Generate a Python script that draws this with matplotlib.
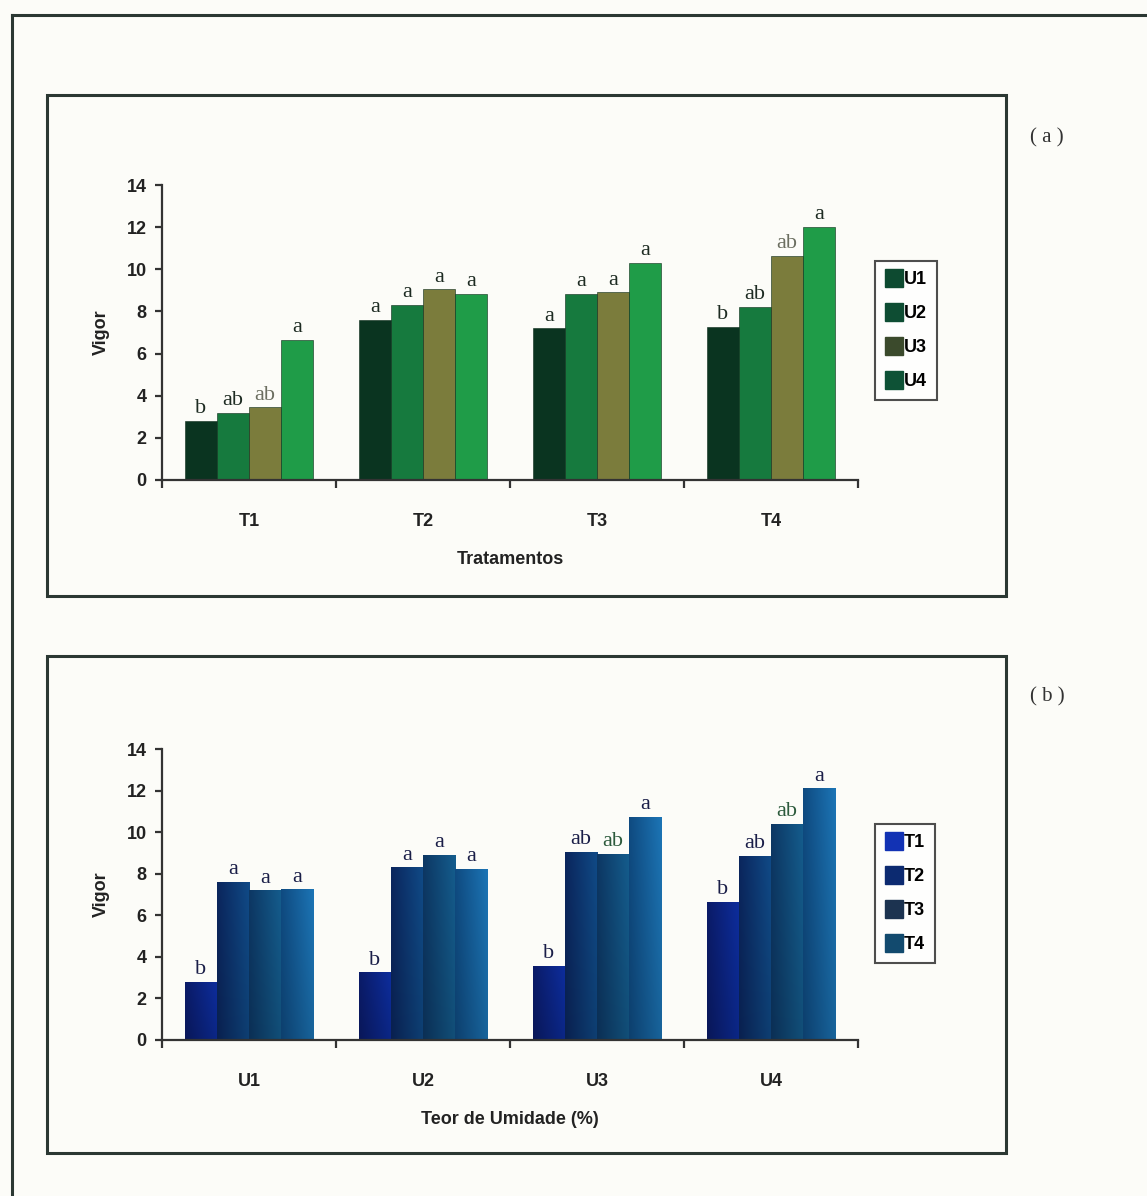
import numpy as np
import matplotlib
matplotlib.use("Agg")
import matplotlib.pyplot as plt
from matplotlib.colors import to_rgb
from matplotlib.lines import Line2D

# panel (a): vigor by treatment, one bar per moisture level
tratamentos = ["T1", "T2", "T3", "T4"]
umidades = ["U1", "U2", "U3", "U4"]
vigor_a = {
    "U1": [2.8, 7.6, 7.2, 7.25],
    "U2": [3.2, 8.3, 8.85, 8.2],
    "U3": [3.45, 9.05, 8.9, 10.65],
    "U4": [6.65, 8.85, 10.3, 12.0],
}
letras_a = {
    "U1": ["b", "a", "a", "b"],
    "U2": ["ab", "a", "a", "ab"],
    "U3": ["ab", "a", "a", "ab"],
    "U4": ["a", "a", "a", "a"],
}

# panel (b): vigor by moisture level, one bar per treatment
vigor_b = {
    "T1": [2.8, 3.25, 3.55, 6.65],
    "T2": [7.6, 8.3, 9.05, 8.85],
    "T3": [7.2, 8.9, 8.95, 10.4],
    "T4": [7.25, 8.25, 10.75, 12.1],
}
letras_b = {
    "T1": ["b", "b", "b", "b"],
    "T2": ["a", "a", "ab", "ab"],
    "T3": ["a", "a", "ab", "ab"],
    "T4": ["a", "a", "a", "a"],
}

cores_a = ["#0a3420", "#167a3e", "#7b7c3c", "#1f9c48"]
leg_a = ["#0d4a30", "#0e4d33", "#3b4a2c", "#0e5236"]
grad_b = [("#0a1960", "#0c2a92"), ("#0a2356", "#0f457d"),
          ("#0c335c", "#135683"), ("#0e4577", "#1a6ca8")]
leg_b = ["#1232b4", "#0c2a70", "#1c3350", "#124a6e"]

BG = "#fcfcf8"
FRAME = "#2b3833"
SANS = "Liberation Sans"
SERIF = "Liberation Serif"

fig = plt.figure(figsize=(11.47, 11.96), dpi=100, facecolor=BG)

# outer frame (top and left only are visible in the scan)
fig.add_artist(Line2D([12 / 1147, 1.0], [1 - 15 / 1196, 1 - 15 / 1196],
                      color=FRAME, lw=2.2, transform=fig.transFigure))
fig.add_artist(Line2D([12 / 1147, 12 / 1147], [0, 1 - 15 / 1196],
                      color=FRAME, lw=2.2, transform=fig.transFigure))

# panel boxes
for y0, h in [(1 - 596 / 1196, 501 / 1196), (1 - 1153 / 1196, 497 / 1196)]:
    fig.add_artist(plt.Rectangle((47 / 1147, y0), 959 / 1147, h, fill=False,
                                 ec=FRAME, lw=2.2, transform=fig.transFigure))

fig.text(1047 / 1147, 1 - 138 / 1196, "( a )", family=SERIF, fontsize=15,
         ha="center", va="center", color="#333")
fig.text(1047 / 1147, 1 - 697 / 1196, "( b )", family=SERIF, fontsize=15,
         ha="center", va="center", color="#333")

ax_a = fig.add_axes([162 / 1147, 1 - 480 / 1196, 696 / 1147, 295 / 1196])
ax_b = fig.add_axes([162 / 1147, 1 - 1040 / 1196, 696 / 1147, 291 / 1196])

w = 0.184
x = np.arange(4)


def style_axis(ax, cats, xlabel):
    ax.set_facecolor(BG)
    ax.set_xlim(-0.5, 3.5)
    ax.set_ylim(0, 14)
    ax.set_yticks(range(0, 15, 2))
    ax.set_xticks(x)
    ax.set_xticklabels(cats)
    ax.set_xticks(np.arange(-0.5, 4, 1), minor=True)
    for s in ["top", "right"]:
        ax.spines[s].set_visible(False)
    for s in ["left", "bottom"]:
        ax.spines[s].set_color("#333")
        ax.spines[s].set_linewidth(1.6)
    ax.tick_params(axis="x", which="major", length=0, pad=24)
    ax.tick_params(axis="x", which="minor", length=6, width=1.6, color="#333")
    ax.tick_params(axis="y", length=5, width=1.6, color="#333", pad=6)
    for lab in ax.get_xticklabels() + ax.get_yticklabels():
        lab.set_fontfamily(SANS)
        lab.set_fontweight("bold")
        lab.set_fontsize(13)
        lab.set_color("#222")
    ax.set_ylabel("Vigor", family=SANS, fontweight="bold", fontsize=13,
                  labelpad=12, color="#222")
    ax.set_xlabel(xlabel, family=SANS, fontweight="bold", fontsize=13,
                  labelpad=15, color="#222")


def legenda(ax, cores, nomes):
    hs = [Line2D([], [], marker="s", ls="none", markersize=13, color=c) for c in cores]
    leg = ax.legend(hs, nomes, loc="upper left", bbox_to_anchor=(1.024, 0.742),
                    borderaxespad=0, frameon=True, fancybox=False, handletextpad=0.05,
                    handlelength=1.0, labelspacing=0.95, borderpad=0.55,
                    prop={"family": SANS, "weight": "bold", "size": 13})
    leg.get_frame().set_edgecolor("#222")
    leg.get_frame().set_linewidth(1.5)
    leg.get_frame().set_facecolor("white")


# ---- panel (a)
for i, u in enumerate(umidades):
    bars = ax_a.bar(x + (i - 1.5) * w, vigor_a[u], width=w, color=cores_a[i],
                    edgecolor="#0a2a18", linewidth=0.4, zorder=2)
    for b, t in zip(bars, letras_a[u]):
        cor = "#6b6e60" if (u == "U3" and t == "ab") else "#1d2b22"
        ax_a.annotate(t, (b.get_x() + b.get_width() / 2, b.get_height()),
                      xytext=(0, 2), textcoords="offset points", ha="center",
                      va="bottom", family=SERIF, fontsize=16, color=cor)
style_axis(ax_a, tratamentos, "Tratamentos")
legenda(ax_a, leg_a, umidades)

# ---- panel (b) with horizontal gradient fill
trat_b = list(vigor_b.keys())
for i, t in enumerate(trat_b):
    bars = ax_b.bar(x + (i - 1.5) * w, vigor_b[t], width=w, color="none",
                    edgecolor="none", zorder=2)
    c0, c1 = np.array(to_rgb(grad_b[i][0])), np.array(to_rgb(grad_b[i][1]))
    ramp = np.linspace(0, 1, 64)
    vert = np.linspace(0.92, 1.08, 32)[:, None, None]
    img = np.clip((c0[None, :] * (1 - ramp[:, None]) + c1[None, :] * ramp[:, None])[None, :, :] * vert, 0, 1)
    for b, lt in zip(bars, letras_b[t]):
        im = ax_b.imshow(img, extent=[b.get_x(), b.get_x() + b.get_width(), 0, b.get_height()],
                         aspect="auto", origin="lower", zorder=2, interpolation="bicubic")
        im.set_clip_path(b)
        cor = "#2c5a3c" if (t == "T3" and lt == "ab") else "#1a1e48"
        ax_b.annotate(lt, (b.get_x() + b.get_width() / 2, b.get_height()),
                      xytext=(0, 2), textcoords="offset points", ha="center",
                      va="bottom", family=SERIF, fontsize=16, color=cor)
style_axis(ax_b, umidades, "Teor de Umidade (%)")
legenda(ax_b, leg_b, trat_b)

fig.savefig("out.png", dpi=100, facecolor=BG)
